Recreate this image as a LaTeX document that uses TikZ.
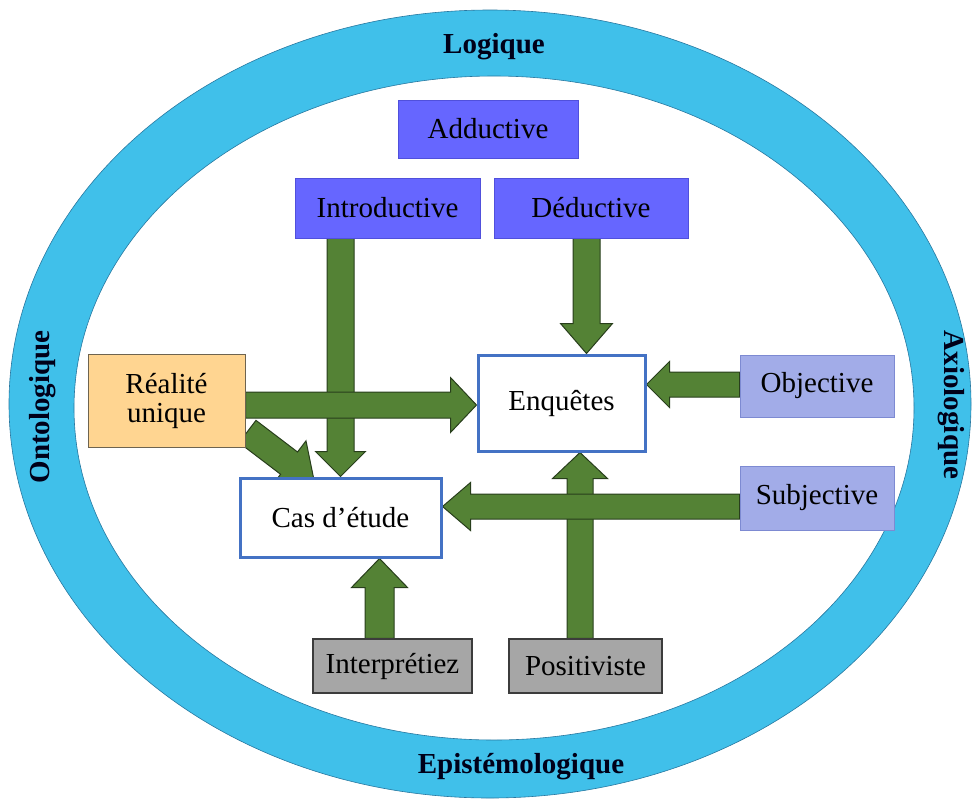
\documentclass[tikz,border=0pt]{standalone}
\usepackage{fontspec}
\setmainfont{Liberation Serif}
\newfontfamily\labelserif{Liberation Serif}
\usetikzlibrary{calc}
\pgfdeclarelayer{back}
\pgfdeclarelayer{arrows}
\pgfsetlayers{back,arrows,main}

\definecolor{ringcyan}{RGB}{64,192,234}
\definecolor{ringedge}{RGB}{40,120,160}
\definecolor{logicblue}{RGB}{102,102,255}
\definecolor{logicedge}{RGB}{80,80,220}
\definecolor{valueblue}{RGB}{162,172,232}
\definecolor{valueedge}{RGB}{125,138,210}
\definecolor{realorange}{RGB}{255,213,145}
\definecolor{realedge}{RGB}{110,100,80}
\definecolor{epigray}{RGB}{166,166,166}
\definecolor{epiedge}{RGB}{60,60,60}
\definecolor{methodedge}{RGB}{68,114,196}
\definecolor{arrgreen}{RGB}{84,130,53}
\definecolor{arredge}{RGB}{40,62,28}

\tikzset{
  box/.style={rectangle, inner sep=0pt, align=center,
    font=\labelserif\fontsize{29}{31}\selectfont},
  logicbox/.style={box, fill=logicblue, draw=logicedge, line width=0.8pt},
  valuebox/.style={box, fill=valueblue, draw=valueedge, line width=1pt},
  realbox/.style={box, fill=realorange, draw=realedge, line width=1pt},
  epibox/.style={box, fill=epigray, draw=epiedge, line width=1.2pt},
  methodbox/.style={box, fill=white, draw=methodedge, line width=3pt},
  ringlabel/.style={font=\labelserif\bfseries\fontsize{29}{31}\selectfont, text=black!90!blue},
  garrow/.style={fill=arrgreen, draw=arredge, line width=1pt, line join=miter},
}

% block arrow: start, tip, shaft half-width, head half-width, head length
\newcommand{\blockarr}[5]{%
  \path (#1) coordinate (ba-s) (#2) coordinate (ba-e);
  \path ($(ba-e)!#5!(ba-s)$) coordinate (ba-h);
  \filldraw[garrow]
    ($(ba-s)!#3!90:(ba-e)$) -- ($(ba-h)!#3!90:(ba-e)$) --
    ($(ba-h)!#4!90:(ba-e)$) -- (ba-e) --
    ($(ba-h)!#4!-90:(ba-e)$) -- ($(ba-h)!#3!-90:(ba-e)$) --
    ($(ba-s)!#3!-90:(ba-e)$) -- cycle;
}

\begin{document}
\begin{tikzpicture}[x=1pt, y=-1pt]
\useasboundingbox (0,0) rectangle (976,801);

% outer ring
\begin{pgfonlayer}{back}
  \filldraw[fill=ringcyan, draw=ringedge, line width=0.6pt, even odd rule]
    (490,404) ellipse [x radius=481pt, y radius=394pt]
    (494,408) ellipse [x radius=420pt, y radius=332pt];
\end{pgfonlayer}

\node[ringlabel] (logique) at (494,47) {Logique};
\node[ringlabel] (episte) at (521,767) {Epistémologique};
\node[ringlabel, rotate=90] (onto) at (43,407) {Ontologique};
\node[ringlabel, rotate=-90] (axio) at (951,405) {Axiologique};

% reasoning boxes
\node[logicbox, minimum width=180pt, minimum height=58pt] (add) at (488,129) {Adductive};
\node[logicbox, minimum width=185pt, minimum height=60pt] (intro) at (387.5,208) {Introductive};
\node[logicbox, minimum width=194pt, minimum height=60pt] (ded) at (591,208) {Déductive};

% ontology
\node[realbox, minimum width=157pt, minimum height=93pt] (real) at (166.5,400.5)
  {Réalité\\[-2pt]unique};

% methods
\node[methodbox, minimum width=167pt, minimum height=96pt] (enq) at (561.5,403) {Enquêtes};
\node[methodbox, minimum width=201pt, minimum height=79pt] (cas) at (340.5,517.5) {Cas d’étude};

% axiology
\node[valuebox, minimum width=154pt, minimum height=62pt] (obj) at (817,386) {Objective};
\node[valuebox, minimum width=154pt, minimum height=64pt] (subj) at (817,498) {Subjective};

% epistemology
\node[epibox, minimum width=159pt, minimum height=54pt] (interp) at (392.5,666) {Interprétiez};
\node[epibox, minimum width=153pt, minimum height=54pt] (posit) at (585.5,666) {Positiviste};

% anchor points of the block arrows
\coordinate (dedout) at ($(ded.south)+(-4.5,0)$);
\coordinate (realout) at ($(real.east)+(0,4.5)$);
\coordinate (realdiag) at ($(real.south east)+(2,-16)$);
\coordinate (casdiag) at ($(cas.north west)+(76,6)$);
\coordinate (objout) at ($(obj.west)+(0,-1.5)$);
\coordinate (subjout) at ($(subj.west)+(0,8.5)$);
\coordinate (positout) at ($(posit.north)+(-5.5,0)$);
\coordinate (interpout) at ($(interp.north)+(-13,0)$);

\begin{pgfonlayer}{arrows}
  \blockarr{realdiag}{casdiag}{14pt}{28pt}{32pt}
  \blockarr{cas.north |- intro.south}{cas.north}{13.5pt}{25pt}{25pt}
  \blockarr{realout}{realout -| enq.west}{13pt}{27.5pt}{26pt}
  \blockarr{dedout}{dedout |- enq.north}{13.5pt}{26pt}{30pt}
  \blockarr{objout}{objout -| enq.east}{12.5pt}{23pt}{23pt}
  \blockarr{positout}{positout |- enq.south}{13pt}{27.5pt}{26pt}
  \blockarr{subjout}{subjout -| cas.east}{12.5pt}{24pt}{28pt}
  \blockarr{interpout}{interpout |- cas.south}{14.5pt}{28pt}{29pt}
\end{pgfonlayer}
\end{tikzpicture}
\end{document}
